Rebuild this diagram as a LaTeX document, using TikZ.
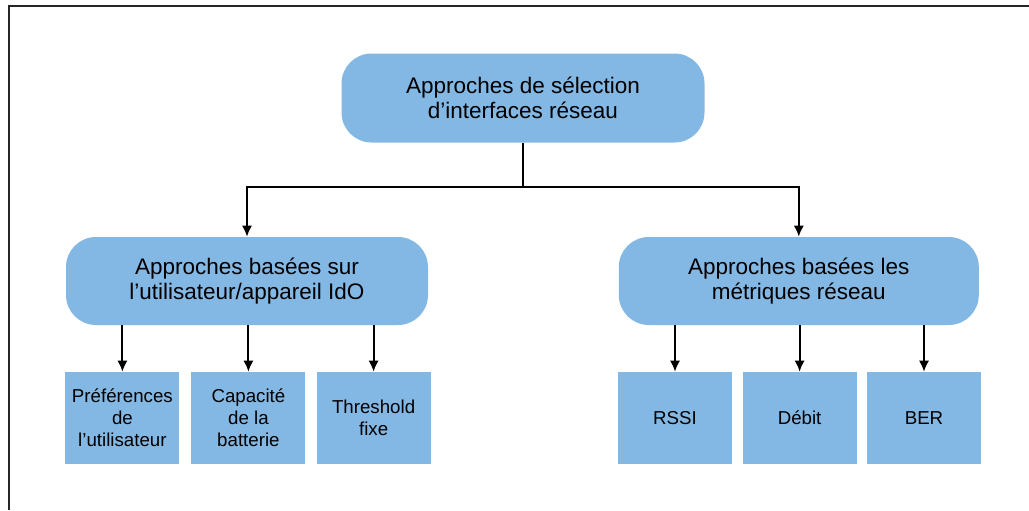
\documentclass[tikz,border=0pt]{standalone}
\usepackage{fontspec}
\setmainfont{Liberation Sans}
\usetikzlibrary{arrows.meta}
\definecolor{boxblue}{RGB}{132,184,228}
\tikzset{
	approche/.style={fill=boxblue,rounded corners=0.75cm,minimum height=2.2cm,align=center,font=\fontsize{16}{18}\selectfont},
	feuille/.style={fill=boxblue,minimum width=2.85cm,minimum height=2.3cm,align=center,font=\fontsize{13.3}{15.6}\selectfont},
	lien/.style={line width=1.5pt,-{Latex[length=2.8mm,width=2.6mm]}}
}
\begin{document}
\begin{tikzpicture}
	\useasboundingbox (0,0) rectangle (25.725,-12.75);
	\draw [line width=1.4pt,black!85] (0.225,-12.75) -- (0.225,-0.15) -- (25.725,-0.15);
	% niveau 1
	\node[approche,minimum width=9.075cm,minimum height=2.225cm] (selection) at (13.075,-2.45) {Approches de sélection\\d'interfaces réseau};
	% niveau 2
	\node[approche,minimum width=9.05cm] (utilisateur) at (6.175,-7.025) {Approches basées sur\\l'utilisateur/appareil IdO};
	\node[approche,minimum width=9cm] (metriques) at (19.97,-7.025) {Approches basées les\\métriques réseau};
	% niveau 3
	\node[feuille] (preferences) at (3.06,-10.45) {Préférences\\de\\l'utilisateur};
	\node[feuille] (batterie) at (6.21,-10.45) {Capacité\\de la\\batterie};
	\node[feuille] (seuil) at (9.34,-10.45) {Threshold\\fixe};
	\node[feuille] (rssi) at (16.875,-10.45) {RSSI};
	\node[feuille] (debit) at (19.99,-10.45) {Débit};
	\node[feuille] (ber) at (23.1,-10.45) {BER};
	% liens
	\coordinate (split) at (13.075,-4.675);
	\draw [lien] (selection.south) -- (split) -| (utilisateur.north);
	\draw [lien] (split) -| (metriques.north);
	\foreach \f in {preferences,batterie,seuil}
		\draw [lien] (\f.north |- utilisateur.south) -- (\f.north);
	\foreach \f in {rssi,debit,ber}
		\draw [lien] (\f.north |- metriques.south) -- (\f.north);
\end{tikzpicture}
\end{document}
